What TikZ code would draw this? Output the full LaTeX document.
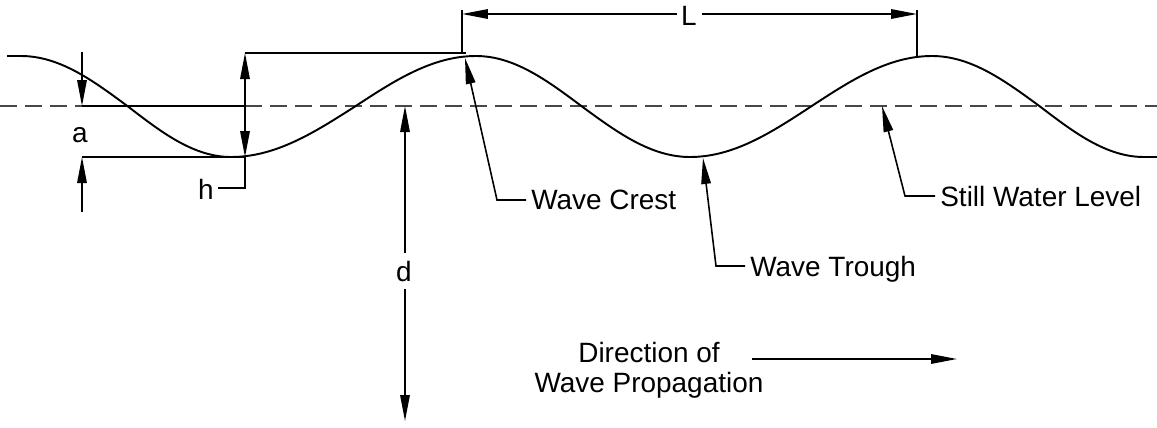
\documentclass[tikz,border=0pt]{standalone}
\usepackage{fontspec}
\setmainfont{Liberation Sans}
\usepackage{xcolor}
\usepackage{tikz}
\usetikzlibrary{arrows.meta,positioning,calc}
\definecolor{ink}{RGB}{0,0,0}
\definecolor{swlgray}{RGB}{72,72,72}
\tikzset{
  wave/.style={line width=1.1pt,ink},
  stillwater/.style={line width=1.6pt,swlgray,dash pattern=on 0.34cm off 0.16cm},
  dimline/.style={line width=0.9pt,ink},
  dimarrow/.style={dimline,-{Triangle[length=5.2mm,width=1.9mm]}},
  dimboth/.style={dimline,{Triangle[length=5.2mm,width=1.9mm]}-{Triangle[length=5.2mm,width=1.9mm]}},
  note/.style={font=\fontsize{15.9}{17.1}\selectfont,text=ink,inner sep=0pt,text depth=0pt}
}

\begin{document}
\begin{tikzpicture}[x=0.02cm,y=-0.02cm]
  \useasboundingbox[fill=white] (0,0) rectangle (1157,427);
  % still water level, solid where it serves as extension line for a
  \draw[stillwater] (0,106) -- (82,106);
  \draw[dimline] (82,106) -- (245,106);
  \draw[stillwater] (245,106) -- (1157,106);
  % the wave profile
  \draw[wave] (7,56) -- (21,56) cos (128,106.5) sin (231,157) cos (355,106.5)
    sin (476,56) cos (582,106.5) sin (690,157) cos (811,106.5) sin (932,56)
    cos (1040,106.5) sin (1144,157) -- (1157,157);
  % key points
  \coordinate (trough1) at (245,157);
  \coordinate (htop) at (245,53);
  \coordinate (crest1) at (466,53);
  \coordinate (crestpt) at (465,58);
  \coordinate (troughpt) at (703,158);
  \coordinate (swlpt) at (882,106);
  % amplitude a
  \coordinate (atop) at (82,52);
  \coordinate (aswl) at (82,106);
  \coordinate (abot) at (82,157);
  \coordinate (afoot) at (82,212);
  \draw[dimarrow] (atop) -- (aswl);
  \draw[dimarrow] (afoot) -- (abot);
  \draw[dimline] (abot) -- (trough1);
  \node[note] (alabel) at (80,135) {a};
  % height h
  \coordinate (hknee) at (245,188);
  \coordinate (hend) at (218,188);
  \draw[dimline] (htop) -- (crest1);
  \draw[dimboth] (htop) -- (trough1);
  \draw[dimline] (trough1) -- (hknee) -- (hend);
  \node[note,anchor=east] (hlabel) at (214,189) {h};
  % wave length L
  \coordinate (lext1) at (462,10);
  \coordinate (lext2) at (917,10);
  \draw[dimline] (lext1) -- (462,53);
  \draw[dimline] (lext2) -- (917,56);
  \node[note] (llabel) at (689,16) {L};
  \coordinate (lgap1) at (677,14);
  \coordinate (lgap2) at (702,14);
  \draw[dimarrow] (lgap1) -- (462,14);
  \draw[dimarrow] (lgap2) -- (917,14);
  % depth d
  \coordinate (dtop) at (405,106);
  \coordinate (dbot) at (405,421);
  \node[note] (dlabel) at (404,271) {d};
  \coordinate (dgap1) at (405,253);
  \coordinate (dgap2) at (405,289);
  \draw[dimarrow] (dgap1) -- (dtop);
  \draw[dimarrow] (dgap2) -- (dbot);
  % leaders
  \node[note,anchor=west] (crestnote) at (531,200) {Wave Crest};
  \coordinate (crestkink) at (497,200);
  \draw[dimarrow] ([xshift=-1mm]crestnote.west) -- (crestkink) -- (crestpt);
  \node[note,anchor=west] (troughnote) at (750,266) {Wave Trough};
  \coordinate (troughkink) at (716,266);
  \draw[dimarrow] ([xshift=-1mm]troughnote.west) -- (troughkink) -- (troughpt);
  \node[note,anchor=west] (swlnote) at (940,196) {Still Water Level};
  \coordinate (swlkink) at (905,196);
  \draw[dimarrow] ([xshift=-1mm]swlnote.west) -- (swlkink) -- (swlpt);
  % direction of propagation
  \node[note,align=center] (dirnote) at (649,367) {Direction of\\Wave Propagation};
  \coordinate (dirtail) at (752,359);
  \coordinate (dirhead) at (957,359);
  \draw[dimarrow] (dirtail) -- (dirhead);
\end{tikzpicture}
\end{document}
